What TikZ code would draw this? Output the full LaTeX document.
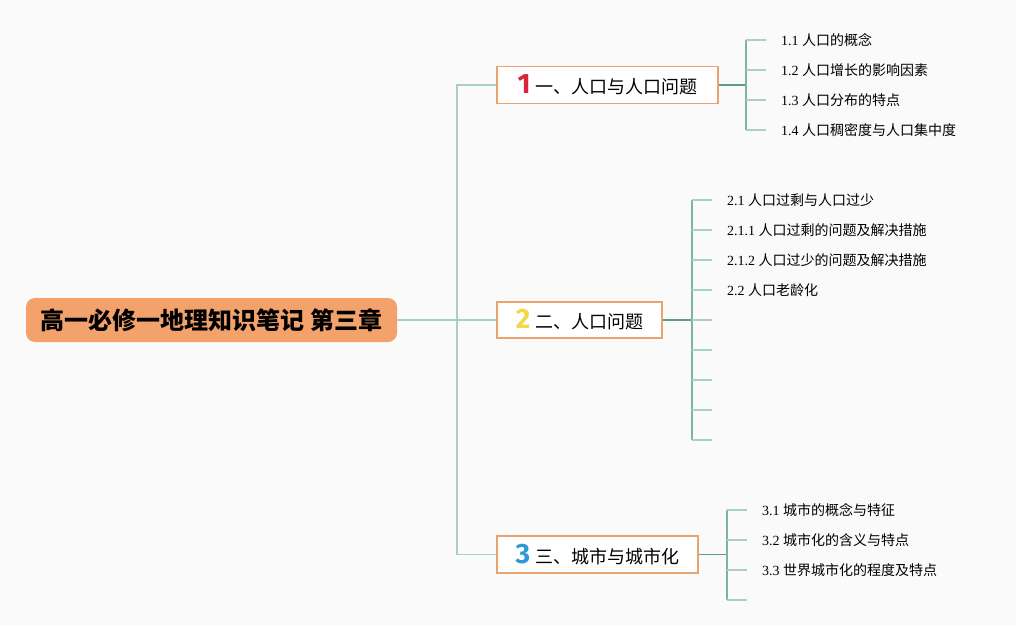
\documentclass[tikz,border=0pt]{standalone}
\usepackage{fontspec}
\setmainfont{Liberation Serif}
\newfontfamily\cjk{Noto Sans CJK SC}
\newfontfamily\numfont{Fira Sans}
\usepackage{xcolor}
\definecolor{bgcol}{HTML}{FAFAFA}
\definecolor{rootcol}{HTML}{F4A26B}
\definecolor{boxline}{HTML}{E9A36E}
\definecolor{darkline}{HTML}{5E9C88}
\definecolor{midline}{HTML}{7DB3A2}
\definecolor{lightline}{HTML}{A9D0C3}
\definecolor{numred}{HTML}{D9263B}
\definecolor{numyellow}{HTML}{F2D848}
\definecolor{numblue}{HTML}{2C9AD8}
\newcommand{\topicnum}[2]{{\numfont\bfseries\fontsize{28}{28}\selectfont\color{#1}#2}\hspace{5pt}}
\tikzset{
  root/.style={fill=rootcol, rounded corners=9pt, minimum width=371pt, minimum height=44pt, inner sep=0pt, font=\cjk\bfseries\fontsize{24}{24}\selectfont},
  topic/.style={draw=boxline, line width=1.6pt, fill=white, minimum height=37pt, inner sep=0pt, font=\cjk\fontsize{18}{18}\selectfont},
  leaf/.style={anchor=west, inner xsep=15pt, inner ysep=0pt, font=\fontsize{14}{14}\selectfont},
  trunk/.style={lightline, line width=1.4pt},
  branch/.style={darkline, line width=1.6pt},
  spine/.style={midline, line width=1.6pt},
  tick/.style={lightline, line width=1.4pt}
}

\begin{document}
\begin{tikzpicture}[x=1pt, y=-1pt]
		% 背景
		\fill [bgcol] (0, 0) rectangle (1016, 625);
		\useasboundingbox (0, 0) rectangle (1016, 625);
		% 中心主题
		\node [root] (root) at (211.5, 320) {高一必修一地理知识笔记 第三章};
		% 分支主题
		\node [topic, minimum width=221pt] (t1) at (607.5, 85) {\topicnum{numred}{1}一、人口与人口问题};
		\node [topic, minimum width=165pt, minimum height=36pt] (t2) at (579.5, 320) {\topicnum{numyellow}{2}二、人口问题};
		\node [topic, minimum width=201pt] (t3) at (597.5, 554.5) {\topicnum{numblue}{3}三、城市与城市化};
		% 主干
		\coordinate (j0) at (457, 320);
		\draw [trunk] (root.east) -- (t2.west);
		\draw [trunk] (t1.west) -| (j0) |- (t3.west);
		% 子主题 1
		\coordinate (s1) at (746, 85);
		\draw [branch] (t1.east) -- (s1);
		\draw [spine] (746, 40) -- (746, 130);
		\foreach \y/\n/\t [count=\i] in {40/1.1/人口的概念, 70/1.2/人口增长的影响因素, 100/1.3/人口分布的特点, 130/1.4/人口稠密度与人口集中度}
		{
			\node [leaf] (a\i) at (766, \y) {\n\ {\cjk \t}};
			\draw [tick] (746, \y) -- (a\i.west);
		}
		% 子主题 2
		\coordinate (s2) at (692, 320);
		\draw [branch] (t2.east) -- (s2);
		\draw [spine] (692, 200) -- (692, 440);
		\foreach \y/\n/\t [count=\i] in {200/2.1/人口过剩与人口过少, 230/2.1.1/人口过剩的问题及解决措施, 260/2.1.2/人口过少的问题及解决措施, 290/2.2/人口老龄化}
		{
			\node [leaf] (b\i) at (712, \y) {\n\ {\cjk \t}};
			\draw [tick] (692, \y) -- (b\i.west);
		}
		\foreach \y in {320, 350, ..., 440}
			\draw [tick] (692, \y) -- (712, \y);
		% 子主题 3
		\coordinate (s3) at (727, 554.5);
		\draw [branch] (t3.east) -- (s3);
		\draw [spine] (727, 510) -- (727, 600);
		\foreach \y/\n/\t [count=\i] in {510/3.1/城市的概念与特征, 540/3.2/城市化的含义与特点, 570/3.3/世界城市化的程度及特点}
		{
			\node [leaf] (c\i) at (747, \y) {\n\ {\cjk \t}};
			\draw [tick] (727, \y) -- (c\i.west);
		}
		\draw [tick] (727, 600) -- (747, 600);
	\end{tikzpicture}
\end{document}
